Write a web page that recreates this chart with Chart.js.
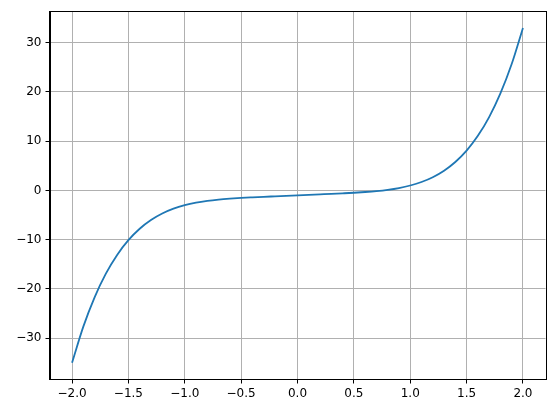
<!DOCTYPE html>
<html>
<head>
<meta charset="utf-8">
<script src="https://cdn.jsdelivr.net/npm/chart.js@4"></script>
<style>
  html, body { margin: 0; padding: 0; background: #fff; }
  #wrap { width: 555px; height: 413px; position: relative; }
</style>
</head>
<body>
<div id="wrap"><canvas id="grafico"></canvas></div>
<script>
// valores
const xValues = [-2.0, -1.9, -1.8, -1.7, -1.6, -1.5, -1.4, -1.3, -1.2, -1.1, -1.0,
                 -0.9, -0.8, -0.7, -0.6, -0.5, -0.4, -0.3, -0.2, -0.1, 0.0,
                 0.1, 0.2, 0.3, 0.4, 0.5, 0.6, 0.7, 0.8, 0.9, 1.0,
                 1.1, 1.2, 1.3, 1.4, 1.5, 1.6, 1.7, 1.8, 1.9, 2.0];
const yValues = [-35.0, -27.66, -21.70, -16.90, -13.09, -10.09, -7.78, -6.01, -4.69, -3.71, -3.0,
                 -2.49, -2.13, -1.87, -1.68, -1.53, -1.41, -1.30, -1.2, -1.1, -1.0,
                 -0.9, -0.8, -0.70, -0.59, -0.47, -0.32, -0.13, 0.13, 0.49, 1.0,
                 1.71, 2.69, 4.01, 5.78, 8.09, 11.09, 14.90, 19.70, 25.66, 33.0];
const xTicks = [-2.0, -1.5, -1.0, -0.5, 0.0, 0.5, 1.0, 1.5, 2.0];
const yTicks = [-30, -20, -10, 0, 10, 20, 30];

const fuente = { family: 'DejaVu Sans', size: 12 };
const menos = (s) => s.replace('-', '\u2212');

// marco completo del área (spines arriba y derecha)
const marco = {
    id: 'marco',
    afterDraw(chart) {
        const { ctx, chartArea: a } = chart;
        ctx.save();
        ctx.strokeStyle = '#000';
        ctx.lineWidth = 1;
        ctx.strokeRect(Math.round(a.left) + 0.5, Math.round(a.top) + 0.5,
                       Math.round(a.right - a.left), Math.round(a.bottom - a.top));
        ctx.restore();
    }
};

new Chart(document.getElementById('grafico'), {
    type: 'line',
    data: {
        datasets: [{
            data: xValues.map((x, i) => ({ x: x, y: yValues[i] })),
            borderColor: '#1f77b4',
            borderWidth: 1.8,
            pointRadius: 0,
            fill: false,
            cubicInterpolationMode: 'monotone'
        }]
    },
    options: {
        responsive: true,
        maintainAspectRatio: false,
        animation: false,
        layout: { padding: { top: 10, right: 9.5, left: 0, bottom: 0 } },
        plugins: { legend: { display: false }, tooltip: { enabled: false } },
        scales: {
            x: {
                type: 'linear',
                min: -2.2,
                max: 2.2,
                afterBuildTicks: (s) => { s.ticks = xTicks.map(v => ({ value: v })); },
                afterFit: (s) => { s.height = 33.5; },
                grid: { color: '#b0b0b0', lineWidth: 1, tickColor: '#000', tickLength: 4 },
                border: { color: '#000', width: 1 },
                ticks: {
                    color: '#000', font: fuente, padding: 3, maxRotation: 0,
                    callback: (v) => menos(Number(v).toFixed(1))
                }
            },
            y: {
                min: -38.4,
                max: 36.4,
                afterBuildTicks: (s) => { s.ticks = yTicks.map(v => ({ value: v })); },
                afterFit: (s) => { s.width = 49.5; },
                grid: { color: '#b0b0b0', lineWidth: 1, tickColor: '#000', tickLength: 4 },
                border: { color: '#000', width: 1 },
                ticks: {
                    color: '#000', font: fuente, padding: 4,
                    callback: (v) => menos(String(v))
                }
            }
        }
    },
    plugins: [marco]
});
</script>
</body>
</html>
